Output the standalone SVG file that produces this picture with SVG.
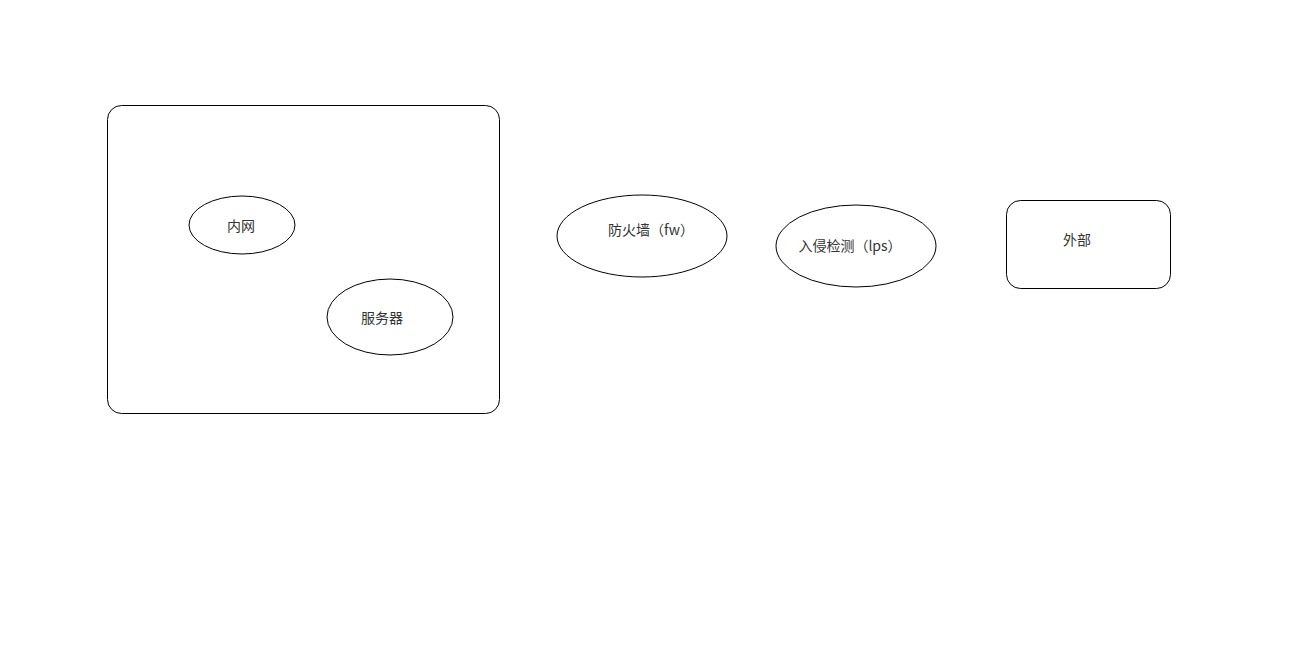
<svg xmlns="http://www.w3.org/2000/svg" width="1304" height="670" viewBox="0 0 1304 670">
<style>
.s{fill:#fff;stroke:#000;stroke-width:1}
.t{font-family:"Noto Sans CJK SC","Liberation Sans",sans-serif;font-size:14px;fill:#333;text-anchor:middle;dominant-baseline:central}
</style>
<rect width="1304" height="670" fill="#fff"/>
<g id="intranet-zone"><rect class="s" x="107.5" y="105.5" width="392" height="308" rx="14"/></g>
<g id="neiwang"><ellipse class="s" cx="242" cy="225" rx="53" ry="29"/><text class="t" x="241" y="225">内网</text></g>
<g id="server"><ellipse class="s" cx="390" cy="317" rx="63" ry="38"/><text class="t" x="382" y="317">服务器</text></g>
<g id="firewall"><ellipse class="s" cx="642" cy="236" rx="85" ry="41"/><text class="t" x="651" y="229">防火墙（fw）</text></g>
<g id="ips"><ellipse class="s" cx="856" cy="246" rx="80" ry="41"/><text class="t" x="850" y="245">入侵检测（lps）</text></g>
<g id="external"><rect class="s" x="1006.5" y="200.5" width="164" height="88" rx="14"/><text class="t" x="1077" y="239">外部</text></g>
<g id="connectors"></g>
</svg>
